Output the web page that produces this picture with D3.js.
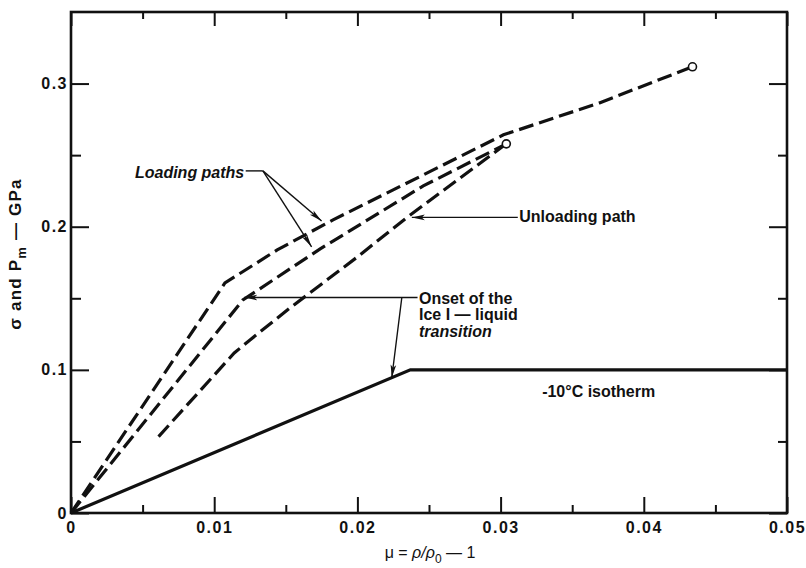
<!DOCTYPE html>
<html>
<head>
<meta charset="utf-8">
<script src="https://cdn.jsdelivr.net/npm/d3@7"></script>
<style>
  body { margin: 0; background: #fff; }
  svg { display: block; }
  text { font-family: "Liberation Sans", Arial, sans-serif; fill: #111; }
</style>
</head>
<body>
<svg id="chart" width="806" height="568"></svg>
<script>
// Axis ticks and labels
const xTicks = [0, 0.01, 0.02, 0.03, 0.04, 0.05];
const xTickLabels = ["0", "0.01", "0.02", "0.03", "0.04", "0.05"];
const xMinorTicks = [0.005, 0.015, 0.025, 0.035, 0.045];
const yTicks = [0, 0.1, 0.2, 0.3];
const yTickLabels = ["0", "0.1", "0.2", "0.3"];
const yMinorTicks = [0.05, 0.15, 0.25];

// Curves: [mu, stress in GPa]
const isotherm = [[0, 0], [0.0237, 0.1], [0.05, 0.1]];
const loadingUpper = [[0, 0], [0.01075, 0.1607], [0.0144, 0.1838], [0.0183, 0.2048],
  [0.0246, 0.2362], [0.0302, 0.2642], [0.0369, 0.2865], [0.0434, 0.3117]];
const loadingLower = [[0, 0], [0.0120, 0.1488], [0.0174, 0.1845], [0.0246, 0.2285],
  [0.0304, 0.2579]];
const unloading = [[0.0304, 0.2579], [0.0235, 0.2068], [0.0200, 0.1789], [0.0153, 0.1433],
  [0.0125, 0.1209], [0.0114, 0.1118], [0.0059, 0.0510]];
const endPoints = [[0.0434, 0.3117], [0.0304, 0.2579]];

const svg = d3.select("#chart");
const x = d3.scaleLinear().domain([0, 0.05]).range([71, 787]);
const y = d3.scaleLinear().domain([0, 0.35]).range([513, 12]);

// Arrowhead marker for leader lines
svg.append("defs").append("marker")
  .attr("id", "arrow")
  .attr("markerUnits", "userSpaceOnUse")
  .attr("markerWidth", 14).attr("markerHeight", 8)
  .attr("refX", 13).attr("refY", 4)
  .attr("orient", "auto")
  .append("path").attr("d", "M0,1.2 L13,4 L0,6.8 L3,4 Z").attr("fill", "#111");

// Tick marks on all four sides, pointing inward
function styleAxis(g) {
  g.select(".domain").remove();
  g.selectAll(".tick line").attr("stroke", "#111").attr("stroke-width", 2);
  g.selectAll(".tick text")
    .style("font-size", "16px").style("font-weight", "bold")
    .style("letter-spacing", "1.5px").attr("fill", "#111");
}
svg.append("g").attr("transform", `translate(0,${y(0)})`)
  .call(d3.axisBottom(x).tickValues(xTicks).tickSize(-16).tickPadding(9)
    .tickFormat((d, i) => xTickLabels[i]))
  .call(styleAxis);
svg.append("g").attr("transform", `translate(0,${y(0)})`)
  .call(d3.axisBottom(x).tickValues(xMinorTicks).tickSize(-8).tickFormat(""))
  .call(styleAxis);
svg.append("g").attr("transform", `translate(0,${y(0.35)})`)
  .call(d3.axisTop(x).tickValues(xTicks).tickSize(-14).tickFormat(""))
  .call(styleAxis);
svg.append("g").attr("transform", `translate(0,${y(0.35)})`)
  .call(d3.axisTop(x).tickValues(xMinorTicks).tickSize(-7).tickFormat(""))
  .call(styleAxis);
svg.append("g").attr("transform", `translate(${x(0)},0)`)
  .call(d3.axisLeft(y).tickValues(yTicks).tickSize(-18).tickPadding(3)
    .tickFormat((d, i) => yTickLabels[i]))
  .call(styleAxis);
svg.append("g").attr("transform", `translate(${x(0)},0)`)
  .call(d3.axisLeft(y).tickValues(yMinorTicks).tickSize(-10).tickFormat(""))
  .call(styleAxis);
svg.append("g").attr("transform", `translate(${x(0.05)},0)`)
  .call(d3.axisRight(y).tickValues(yTicks).tickSize(-18).tickFormat(""))
  .call(styleAxis);
svg.append("g").attr("transform", `translate(${x(0.05)},0)`)
  .call(d3.axisRight(y).tickValues(yMinorTicks).tickSize(-9).tickFormat(""))
  .call(styleAxis);

// Plot frame
svg.append("rect")
  .attr("x", x(0)).attr("y", y(0.35))
  .attr("width", x(0.05) - x(0)).attr("height", y(0) - y(0.35))
  .attr("fill", "none").attr("stroke", "#111").attr("stroke-width", 2.6);

// Curves
const line = d3.line().x(d => x(d[0])).y(d => y(d[1]));
svg.append("path").datum(isotherm).attr("d", line)
  .attr("fill", "none").attr("stroke", "#111").attr("stroke-width", 3.2);
[loadingUpper, loadingLower, unloading].forEach(data => {
  svg.append("path").datum(data).attr("d", line)
    .attr("fill", "none").attr("stroke", "#111").attr("stroke-width", 3.2)
    .attr("stroke-dasharray", "15,6");
});
svg.selectAll("circle.end").data(endPoints).join("circle")
  .attr("class", "end")
  .attr("cx", d => x(d[0])).attr("cy", d => y(d[1])).attr("r", 4)
  .attr("fill", "#fff").attr("stroke", "#111").attr("stroke-width", 1.6);

// Annotation leaders
function leader(pts, arrow) {
  const p = svg.append("path")
    .attr("d", d3.line()(pts.map(d => [x(d[0]), y(d[1])])))
    .attr("fill", "none").attr("stroke", "#111").attr("stroke-width", 1.4);
  if (arrow) p.attr("marker-end", "url(#arrow)");
}
leader([[0.0122, 0.2390], [0.0134, 0.2390]], false);
leader([[0.0134, 0.2390], [0.0175, 0.2040]], true);
leader([[0.0134, 0.2390], [0.0168, 0.1860]], true);
leader([[0.0312, 0.2065], [0.0238, 0.2065]], true);
leader([[0.0242, 0.1505], [0.0121, 0.1505]], true);
leader([[0.0231, 0.1505], [0.0224, 0.0945]], true);

function label(txt, mx, my, opts = {}) {
  return svg.append("text")
    .attr("x", x(mx)).attr("y", y(my))
    .attr("text-anchor", opts.anchor || "start")
    .style("font-size", (opts.size || 16) + "px")
    .style("font-weight", opts.weight || "bold")
    .style("font-style", opts.italic ? "italic" : "normal")
    .text(txt);
}
label("Loading paths", 0.0121, 0.2340, { anchor: "end", italic: true });
label("Unloading path", 0.0313, 0.2030);
label("Onset of the", 0.0243, 0.1460);
label("Ice I \u2014 liquid", 0.0243, 0.1345);
label("transition", 0.0243, 0.1228, { italic: true });
label("-10\u00b0C isotherm", 0.0329, 0.0810);

// Axis titles
const xt = svg.append("text")
  .attr("x", 430).attr("y", 558)
  .attr("text-anchor", "middle")
  .style("font-size", "16px");
xt.append("tspan").text("\u03bc = ");
xt.append("tspan").style("font-style", "italic").text("\u03c1/\u03c1");
xt.append("tspan").attr("dy", 5).style("font-size", "12px").text("0");
xt.append("tspan").attr("dy", -5).text(" \u2014 1");

const yt = svg.append("text")
  .attr("transform", "translate(21,254) rotate(-90)")
  .attr("text-anchor", "middle")
  .style("font-size", "17px").style("font-weight", "bold")
  .style("letter-spacing", "1.2px");
yt.append("tspan").text("\u03c3 and P");
yt.append("tspan").attr("dy", 5).style("font-size", "13px").text("m");
yt.append("tspan").attr("dy", -5).text(" \u2014 GPa");
</script>
</body>
</html>
